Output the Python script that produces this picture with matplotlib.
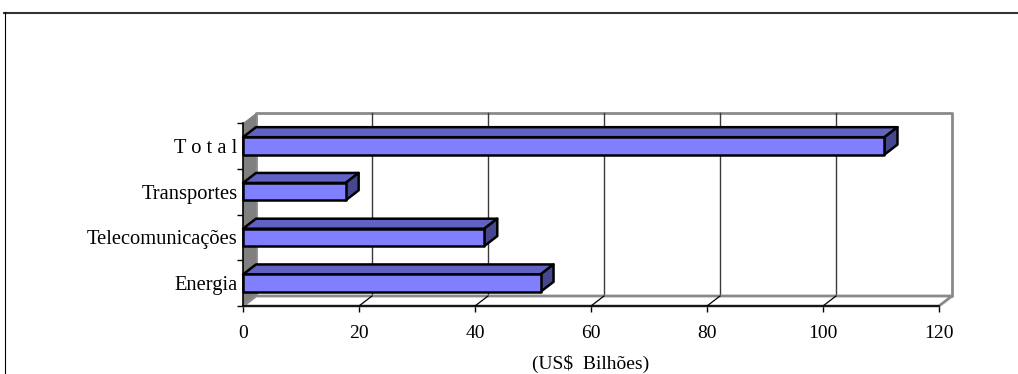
import matplotlib
matplotlib.use('Agg')
import matplotlib.pyplot as plt
from matplotlib.patches import Polygon
from matplotlib.lines import Line2D

plt.rcParams['font.family'] = 'Liberation Serif'
plt.rcParams['font.size'] = 14

# investment by sector, US$ billions
categories = ['Energia', 'Telecomunicações', 'Transportes', 'T o t a l']
values = [51.3, 41.6, 17.7, 110.6]
xticks = [0, 20, 40, 60, 80, 100, 120]

W, H = 1018, 374
fig = plt.figure(figsize=(W / 100, H / 100), dpi=100)
ax = fig.add_axes([243 / W, (H - 306) / H, (939 - 243) / W, (306 - 123) / H])
ax.set_xlim(0, 120)
ax.set_ylim(-0.5, 3.5)
ax.patch.set_visible(False)
for s in ax.spines.values():
    s.set_visible(False)

# depth of the 3d box, in data units
dx = 13 * 120 / 696
dy = 10 * 4 / 183
bh = 0.38
gray = '#8a8a8a'

def poly(pts, fc, ec='none', lw=0, z=1):
    p = Polygon(pts, closed=True, facecolor=fc, edgecolor=ec, linewidth=lw,
                joinstyle='round', clip_on=False, zorder=z)
    ax.add_patch(p)

# back wall, side wall, floor
poly([(dx, -0.5 + dy), (120 + dx, -0.5 + dy), (120 + dx, 3.5 + dy), (dx, 3.5 + dy)],
     'white', gray, 2, z=1)
poly([(0, -0.5), (dx, -0.5 + dy), (dx, 3.5 + dy), (0, 3.5)], '#808080', z=2)
poly([(0, -0.5), (120, -0.5), (120 + dx, -0.5 + dy), (dx, -0.5 + dy)],
     'white', gray, 2, z=2)

for t in xticks[1:-1]:
    ax.plot([t + dx, t + dx], [-0.5 + dy, 3.5 + dy], color='#3a3a3a', lw=1,
            clip_on=False, zorder=1.5)
    ax.plot([t, t + dx], [-0.5, -0.5 + dy], color='black', lw=0.9,
            clip_on=False, zorder=3)

ax.plot([0, 120], [-0.5, -0.5], color='black', lw=1.2, clip_on=False, zorder=3)
ax.plot([0, 0], [-0.5, 3.5], color='black', lw=1.2, clip_on=False, zorder=3)

# bars: front, top and side faces
for i, v in enumerate(values):
    y0, y1 = i - bh / 2, i + bh / 2
    poly([(0, y1), (v, y1), (v + dx, y1 + dy), (dx, y1 + dy)], '#6262c4', 'black', 1.8, z=4)
    poly([(v, y0), (v + dx, y0 + dy), (v + dx, y1 + dy), (v, y1)], '#474790', 'black', 1.8, z=4)
    poly([(0, y0), (v, y0), (v, y1), (0, y1)], '#8080ff', 'black', 1.8, z=5)

ax.set_xticks(xticks)
ax.set_xticklabels([str(t) for t in xticks])
ax.tick_params(axis='x', direction='out', length=4, width=1, pad=10)
ax.set_yticks([-0.5, 0.5, 1.5, 2.5, 3.5])
ax.set_yticklabels([])
ax.tick_params(axis='y', which='major', direction='out', length=4, width=1)
ax.set_yticks(range(len(categories)), minor=True)
ax.set_yticklabels(categories, minor=True, fontsize=14.8)
ax.tick_params(axis='y', which='minor', length=0, pad=4)
ax.set_xlabel('(US$  Bilhões)', labelpad=9)

# outer frame
fig.add_artist(Line2D([4 / W, 1], [1 - 12.5 / H] * 2, transform=fig.transFigure,
                      color='#333333', lw=1.5))
fig.add_artist(Line2D([4.5 / W] * 2, [0, 1 - 12 / H], transform=fig.transFigure,
                      color='black', lw=0.8))

fig.savefig('out.png', dpi=100)
